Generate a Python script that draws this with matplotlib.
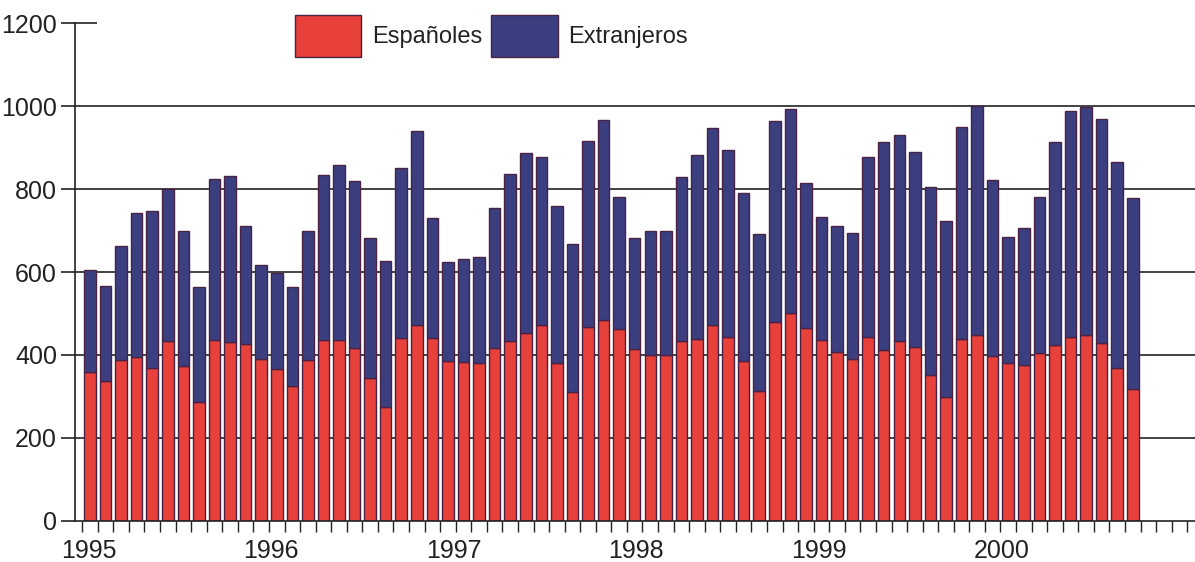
import numpy as np
import matplotlib
matplotlib.use("Agg")
import matplotlib.pyplot as plt

plt.rcParams['font.family'] = ['Liberation Sans', 'DejaVu Sans']

# valores mensuales, enero 1995 - agosto 2000
espanoles = [358, 337, 389, 395, 368, 433, 373, 287, 435, 432, 426, 390,
             367, 325, 388, 436, 436, 417, 344, 275, 440, 472, 441, 386,
             384, 381, 416, 434, 453, 472, 380, 310, 467, 485, 462, 415,
             401, 401, 434, 439, 472, 444, 386, 314, 480, 502, 464, 437,
             408, 391, 444, 412, 434, 420, 352, 299, 438, 447, 398, 381,
             376, 406, 425, 443, 448, 429, 368, 319]
extranjeros = [246, 229, 274, 348, 380, 367, 326, 276, 388, 400, 284, 228,
               230, 238, 311, 398, 421, 402, 338, 352, 411, 468, 288, 239,
               248, 255, 339, 402, 433, 406, 379, 358, 448, 481, 319, 268,
               298, 298, 395, 442, 475, 451, 404, 378, 485, 491, 351, 295,
               302, 303, 432, 501, 497, 470, 452, 425, 512, 553, 423, 303,
               330, 375, 488, 544, 549, 540, 498, 459]
years = ['1995', '1996', '1997', '1998', '1999', '2000']
yticks = [0, 200, 400, 600, 800, 1000, 1200]

red = '#e8403a'
blue = '#3b3f80'
edge = '#4a2244'

fig = plt.figure(figsize=(11.95, 5.62), dpi=100)
ax = fig.add_axes([0.0628, 0.073, 0.9372, 0.886])

x = np.arange(len(espanoles))
ax.bar(x, espanoles, width=0.74, color=red, edgecolor=edge, linewidth=1.0,
       label='Españoles', zorder=3)
ax.bar(x, extranjeros, width=0.74, bottom=espanoles, color=blue,
       edgecolor=edge, linewidth=1.0, label='Extranjeros', zorder=3)

x0, x1 = -0.96, 71.0
ax.set_xlim(x0, x1)
ax.set_ylim(0, 1200)

# lineas horizontales
for v in yticks[1:-1]:
    ax.axhline(v, color='#222222', lw=1.2, zorder=1)
ax.hlines(1200, x0, x0 + 1.4, color='#222222', lw=1.2, clip_on=False)

ax.set_yticks(yticks)
ax.tick_params(axis='y', length=10, width=1.2, pad=3, labelsize=18,
               colors='#222222')

# años
ax.set_xticks([12 * k - 0.27 * k - 0.1 for k in range(len(years))])
ax.set_xticklabels(years)
ax.set_xticks(np.arange(-0.5, x1, 1.0), minor=True)
ax.tick_params(axis='x', which='major', length=0, pad=13, labelsize=18,
               colors='#222222')
ax.tick_params(axis='x', which='minor', length=8, width=1.0, color='#222222')

for s in ['top', 'right']:
    ax.spines[s].set_visible(False)
ax.spines['left'].set_color('#222222')
ax.spines['left'].set_linewidth(1.2)
ax.spines['bottom'].set_color('#222222')
ax.spines['bottom'].set_linewidth(1.2)
ax.spines['bottom'].set_zorder(4)

fig.legend(loc='center left', bbox_to_anchor=(0.237, 0.936), ncol=2,
           frameon=False, fontsize=17, handlelength=2.8, handleheight=2.35,
           handletextpad=0.45, columnspacing=0.4, borderpad=0,
           labelcolor='#222222')

fig.savefig('out.png', dpi=100)
